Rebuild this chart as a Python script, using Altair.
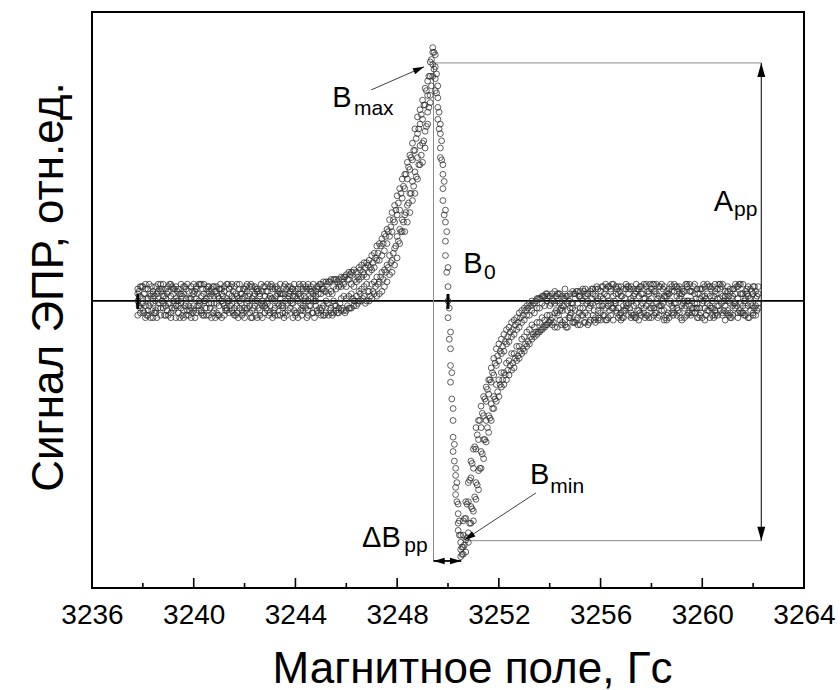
import altair as alt
import pandas as pd

# ---------------- data ----------------
# field grid of scans 1-4
field = [
    3237.8, 3237.9,
    3238.0, 3238.1, 3238.2, 3238.3, 3238.4, 3238.5, 3238.6, 3238.7, 3238.8, 3238.9,
    3239.0, 3239.1, 3239.2, 3239.3, 3239.4, 3239.5, 3239.6, 3239.7, 3239.8, 3239.9,
    3240.0, 3240.1, 3240.2, 3240.3, 3240.4, 3240.5, 3240.6, 3240.7, 3240.8, 3240.9,
    3241.0, 3241.1, 3241.2, 3241.3, 3241.4, 3241.5, 3241.6, 3241.7, 3241.8, 3241.9,
    3242.0, 3242.1, 3242.2, 3242.3, 3242.4, 3242.5, 3242.6, 3242.7, 3242.8, 3242.9,
    3243.0, 3243.1, 3243.2, 3243.3, 3243.4, 3243.5, 3243.6, 3243.7, 3243.8, 3243.9,
    3244.0, 3244.1, 3244.2, 3244.3, 3244.4, 3244.5, 3244.6, 3244.7, 3244.8, 3244.9,
    3245.0, 3245.1, 3245.2, 3245.3, 3245.4, 3245.5, 3245.6, 3245.7, 3245.8, 3245.9,
    3246.0, 3246.1, 3246.2, 3246.3, 3246.4, 3246.5, 3246.6, 3246.7, 3246.8, 3246.9,
    3247.0, 3247.1, 3247.2, 3247.3, 3247.4, 3247.5, 3247.6, 3247.7, 3247.8, 3247.9,
    3248.0, 3248.1, 3248.2, 3248.3, 3248.4, 3248.5, 3248.6, 3248.7, 3248.8, 3248.9,
    3249.0, 3249.1, 3249.2, 3249.3, 3249.4, 3249.5, 3249.6, 3249.7, 3249.8, 3249.9,
    3250.0, 3250.1, 3250.2, 3250.3, 3250.4, 3250.5, 3250.6, 3250.7, 3250.8, 3250.9,
    3251.0, 3251.1, 3251.2, 3251.3, 3251.4, 3251.5, 3251.6, 3251.7, 3251.8, 3251.9,
    3252.0, 3252.1, 3252.2, 3252.3, 3252.4, 3252.5, 3252.6, 3252.7, 3252.8, 3252.9,
    3253.0, 3253.1, 3253.2, 3253.3, 3253.4, 3253.5, 3253.6, 3253.7, 3253.8, 3253.9,
    3254.0, 3254.1, 3254.2, 3254.3, 3254.4, 3254.5, 3254.6, 3254.7, 3254.8, 3254.9,
    3255.0, 3255.1, 3255.2, 3255.3, 3255.4, 3255.5, 3255.6, 3255.7, 3255.8, 3255.9,
    3256.0, 3256.1, 3256.2, 3256.3, 3256.4, 3256.5, 3256.6, 3256.7, 3256.8, 3256.9,
    3257.0, 3257.1, 3257.2, 3257.3, 3257.4, 3257.5, 3257.6, 3257.7, 3257.8, 3257.9,
    3258.0, 3258.1, 3258.2, 3258.3, 3258.4, 3258.5, 3258.6, 3258.7, 3258.8, 3258.9,
    3259.0, 3259.1, 3259.2, 3259.3, 3259.4, 3259.5, 3259.6, 3259.7, 3259.8, 3259.9,
    3260.0, 3260.1, 3260.2, 3260.3, 3260.4, 3260.5, 3260.6, 3260.7, 3260.8, 3260.9,
    3261.0, 3261.1, 3261.2, 3261.3, 3261.4, 3261.5, 3261.6, 3261.7, 3261.8, 3261.9,
    3262.0, 3262.1, 3262.2,
]

# shifted field grid of scans 5-6
field_b = [
    3237.85, 3237.95,
    3238.05, 3238.15, 3238.25, 3238.35, 3238.45, 3238.55, 3238.65, 3238.75, 3238.85, 3238.95,
    3239.05, 3239.15, 3239.25, 3239.35, 3239.45, 3239.55, 3239.65, 3239.75, 3239.85, 3239.95,
    3240.05, 3240.15, 3240.25, 3240.35, 3240.45, 3240.55, 3240.65, 3240.75, 3240.85, 3240.95,
    3241.05, 3241.15, 3241.25, 3241.35, 3241.45, 3241.55, 3241.65, 3241.75, 3241.85, 3241.95,
    3242.05, 3242.15, 3242.25, 3242.35, 3242.45, 3242.55, 3242.65, 3242.75, 3242.85, 3242.95,
    3243.05, 3243.15, 3243.25, 3243.35, 3243.45, 3243.55, 3243.65, 3243.75, 3243.85, 3243.95,
    3244.05, 3244.15, 3244.25, 3244.35, 3244.45, 3244.55, 3244.65, 3244.75, 3244.85, 3244.95,
    3245.05, 3245.15, 3245.25, 3245.35, 3245.45, 3245.55, 3245.65, 3245.75, 3245.85, 3245.95,
    3246.05, 3246.15, 3246.25, 3246.35, 3246.45, 3246.55, 3246.65, 3246.75, 3246.85, 3246.95,
    3247.05, 3247.15, 3247.25, 3247.35, 3247.45, 3247.55, 3247.65, 3247.75, 3247.85, 3247.95,
    3248.05, 3248.15, 3248.25, 3248.35, 3248.45, 3248.55, 3248.65, 3248.75, 3248.85, 3248.95,
    3249.05, 3249.15, 3249.25, 3249.35, 3249.45, 3249.55, 3249.65, 3249.75, 3249.85, 3249.95,
    3250.05, 3250.15, 3250.25, 3250.35, 3250.45, 3250.55, 3250.65, 3250.75, 3250.85, 3250.95,
    3251.05, 3251.15, 3251.25, 3251.35, 3251.45, 3251.55, 3251.65, 3251.75, 3251.85, 3251.95,
    3252.05, 3252.15, 3252.25, 3252.35, 3252.45, 3252.55, 3252.65, 3252.75, 3252.85, 3252.95,
    3253.05, 3253.15, 3253.25, 3253.35, 3253.45, 3253.55, 3253.65, 3253.75, 3253.85, 3253.95,
    3254.05, 3254.15, 3254.25, 3254.35, 3254.45, 3254.55, 3254.65, 3254.75, 3254.85, 3254.95,
    3255.05, 3255.15, 3255.25, 3255.35, 3255.45, 3255.55, 3255.65, 3255.75, 3255.85, 3255.95,
    3256.05, 3256.15, 3256.25, 3256.35, 3256.45, 3256.55, 3256.65, 3256.75, 3256.85, 3256.95,
    3257.05, 3257.15, 3257.25, 3257.35, 3257.45, 3257.55, 3257.65, 3257.75, 3257.85, 3257.95,
    3258.05, 3258.15, 3258.25, 3258.35, 3258.45, 3258.55, 3258.65, 3258.75, 3258.85, 3258.95,
    3259.05, 3259.15, 3259.25, 3259.35, 3259.45, 3259.55, 3259.65, 3259.75, 3259.85, 3259.95,
    3260.05, 3260.15, 3260.25, 3260.35, 3260.45, 3260.55, 3260.65, 3260.75, 3260.85, 3260.95,
    3261.05, 3261.15, 3261.25, 3261.35, 3261.45, 3261.55, 3261.65, 3261.75, 3261.85, 3261.95,
    3262.05, 3262.15,
]

scan_1 = [
    3, -5, 6, -2, 1, -7, 4, 0, -3, 7,
    -1, 5, -6, 2, -4, 6, -2, 3, -7, 1,
    4, -3, 7, -5, 0, 2, -6, 5, -1, 3,
    -4, 6, -2, -7, 4, 1, -5, 7, -3, 2,
    0, -6, 5, -1, 3, -4, 6, -7, 2, 4,
    -2, 7, -5, 1, -3, 5, -6, 3, 0, -4,
    6, -1, 4, -7, 2, 5, -3, 7, -2, 1,
    4, -5,
    -4, 5, -5, 8, -3, 6, -4, 9, 1, -4,
    11, -3, 7, -2, 12, 0, 15, 2, 10, 4,
    19, 3, 17, 8, 26, 6, 24, 11, 37, 22,
    18, 47, 29, 53, 40, 61, 42, 63, 51, 80,
    66, 71, 92, 86, 104,
    98, 85, 70, 47, 33, 6, -27, -50, -78, -93, -101,
    -92, -100, -76, -93, -62, -83, -50, -70, -40, -59,
    -33, -50, -24, -42, -18, -36, -14, -33, -11, -29,
    -8, -25, -5, -22, -3, -19, -1, -16, -1, -14,
    1, -12, 2, -10,
    2, -10, -1, 3, -8, -4, 1, -11, -3, 4,
    -9, -1, 4, -6, 2, -10, -2, 5, -7, 1,
    -5, 6, -8, 0, 4, -3, 6, -7, 2, -4,
    5, -6, 1, -2, 7, -8, 3, -5, 6, 0,
    -7, 4, -1, 6, -4, 2, -6, 5, -2, 7,
    -3, 1, -8, 4, 6, -5, 0, 3, -7, 5,
    -1, 6, -4, 2, -6, 7, -2, 1, -5, 4,
    0, -7, 5, -3, 6, -1, 3, -6, 2, -4,
    6, -2, 3,
]

scan_2 = [
    -6, 2, -1, 5, -4, 3, -7, 6, 1, -3,
    7, -2, 4, -5, 0, -7, 5, -1, 3, -6,
    -2, 6, -4, 1, 7, -5, 3, -3, 6, -7,
    2, -1, 5, 3, -6, 7, 0, -4, 6, -2,
    5, 3, -3, 7, -5, 1, -2, 4, -6, 0,
    6, -4, 2, -7, 5, -1, 3, -5, 7, 1,
    -3, 5, -6, 3, -1, -4, 6, 0, 4, -5,
    2, 6,
    7, -2, 4, -6, 9, 0, 5, -3, 10, 7,
    -4, 9, -3, 13, 2, 9, 5, 11, 0, 17,
    7, 14, 2, 24, 12, 21, 8, 34, 17, 40,
    36, 24, 51, 36, 58, 45, 66, 45, 70, 57,
    84, 82, 74, 100, 94,
    103, 76, 64, 57, 19, -7, -13, -63, -70, -85, -107,
    -103, -84, -97, -67, -88, -53, -79, -44, -66, -36,
    -55, -28, -45, -20, -40, -16, -35, -12, -31, -9,
    -28, -7, -24, -4, -21, -2, -18, 0, -15, 1,
    -13, 2, -11, 3,
    -9, 1, -5, -11, 3, -2, -8, 2, -6, -1,
    3, -7, -3, 5, -9, 0, 4, -6, 2, -8,
    4, -2, 5, -7, -1, 7, -4, 3, -8, 5,
    -3, 6, -7, 2, -1, 5, -6, 7, -2, 3,
    5, -3, 7, -6, 1, -8, 4, -1, 6, -5,
    2, 6, -2, -7, 0, 4, -5, 7, -1, -3,
    5, -8, 3, -2, 6, -4, 1, 7, -6, 2,
    -4, 5, -2, 7, -7, 3, -5, 1, 6, -1,
    -6, 4, -3,
]

scan_3 = [
    0, 6, -4, -7, 5, 2, -1, -5, 7, 4,
    -3, 1, 6, -7, 3, -2, 0, 7, -4, 5,
    -6, 1, -2, 5, -4, 7, 0, -6, 4, -1,
    6, -5, 1, 5, -2, -4, 3, -1, -6, 7,
    -3, 1, -7, 4, -2, 6, 3, 0, -4, -7,
    2, -1, 6, 5, -6, 3, 1, -3, -5, 6,
    0, -7, 2, 5, -4, 7, 1, -4, 6, 3,
    -2, 5,
    -6, 8, 0, 3, -5, -5, 9, 6, -4, 2,
    6, 2, 12, 6, -2, 14, 0, 16, 7, 0,
    13, 20, 10, 3, 19, 28, 15, 19, 29, 15,
    44, 38, 43, 29, 33, 55, 50, 72, 77, 65,
    58, 89, 86, 94, 99,
    88, 90, 74, 42, 38, 14, -34, -45, -81, -96, -98,
    -98, -105, -84, -86, -70, -76, -58, -63, -48, -50,
    -39, -43, -31, -35, -25, -30, -21, -26, -17, -22,
    -14, -19, -11, -16, -8, -13, -6, -10, -5, -9,
    -3, -7, -2, -6,
    -2, -7, 4, -5, -1, 2, -10, -4, 3, -9,
    -4, 4, -10, 0, -5, 3, -8, -1, 5, -4,
    -8, 1, -3, 6, -6, 2, -1, 6, -5, -2,
    7, -1, -5, 5, -7, 2, 6, -3, -6, 4,
    1, -6, 3, -2, 7, -4, 2, -7, 4, -1,
    6, -5, 3, 0, -6, 7, -3, -1, 5, -6,
    2, -3, 7, -7, 0, 4, -6, 5, 2, -8,
    6, -1, -6, 3, 1, -5, 7, -3, -2, 5,
    -5, 1, 6,
]

scan_4 = [
    5, -3, 1, 7, -6, -1, 3, -4, 4, -6,
    2, -6, -1, 7, 5, 1, -5, -3, 6, -1,
    1, -7, 3, 6, -2, -4, 7, 1, -6, 5,
    -1, 3, -6, 0, 6, -3, 5, 2, 1, -5,
    7, -4, 2, -3, 6, -7, 0, 5, 3, -2,
    -5, 4, -2, 6, 0, -6, 7, -2, 3, -1,
    4, 2, -5, 0, 6, -2, 4, -6, 1, 7,
    0, 3,
    3, -6, 8, -1, 4, 9, -2, -5, 6, 10,
    1, 12, 3, 0, 8, 4, 10, 6, 16, 12,
    1, 8, 23, 17, 4, 13, 30, 27, 12, 33,
    27, 30, 34, 47, 51, 37, 59, 54, 60, 74,
    76, 64, 79, 83, 106,
    93, 81, 60, 53, 25, 0, -20, -57, -73, -89, -104,
    -106, -91, -101, -74, -92, -62, -71, -53, -58, -42,
    -48, -34, -40, -27, -33, -22, -30, -18, -25, -15,
    -22, -12, -19, -9, -15, -6, -12, -4, -11, -3,
    -9, -1, -8, 0,
    -6, 3, -11, 0, -4, -9, 5, -1, -7, -3,
    1, -10, 2, -3, 5, -6, -1, 3, -9, 5,
    2, -6, 7, -2, 5, -8, 3, -3, 6, -7,
    -1, 3, 6, -6, 4, -4, -2, 1, 7, -7,
    -3, 7, -5, 2, -2, 6, -8, 3, -5, 4,
    -6, 3, 5, -3, 7, -2, 4, -5, -3, 1,
    -7, 2, -1, 6, -3, -6, 5, -4, 7, -2,
    4, -5, 2, -1, -5, 7, -2, 4, -7, 1,
    3, -6, -1,
]

scan_5 = [
    -2, 6, -5, 1, 7, -4, 2, -7, 5, 0,
    -6, 3, -1, 6, -3, 4, -7, 2, 6, -4,
    1, -5, 4, -2, 7, -6, 0, 3, -3, 6,
    -7, 2, 5, -1, -4, 7, -2, 4, -6, 1,
    3, -5, 6, 0, -7, 2, 5, -3, 7, -1,
    4, -6, 1, -4, 6, -2, 3, -7, 5, 2,
    -1, 7, -5, 3, -6, 0, 5, -2, 4, -7,
    6, -3,
    5, -6, 7, -4, 3, -2, 8, -1, 9, -5,
    9, -3, 12, 0, 10, 3, 12, -1, 15, 2,
    16, 6, 20, 10, 24, 12, 29, 16, 34, 23,
    41, 29, 48, 37, 56, 45, 63, 52, 72, 61,
    82, 73, 94, 90, 104,
    95, 79, 67, 50, 29, -3, -30, -60, -76, -92, -103,
    -102, -85, -93, -68, -82, -56, -70, -47, -58, -37,
    -49, -30, -41, -23, -35, -19, -31, -15, -27, -12,
    -24, -9, -21, -6, -18, -3, -15, -1, -13, 1,
    -12, 2, -10, 2,
    -8, 0, -4, 3, -10, -2, 2, -7, -1, -9,
    4, -5, 1, -9, 3, -3, 5, -8, 0, -2,
    6, -6, 2, -4, 7, -1, -5, 4, -7, 1,
    -2, 5, -6, 3, -4, 6, -1, -7, 4, -3,
    7, -5, 1, -2, 5, -7, 3, 0, -6, 6,
    -4, 2, -1, 7, -5, 4, -3, 1, -7, 5,
    0, -6, 6, -3, 2, -5, 7, -1, -4, 3,
    -6, 1, 5, -2, 7, -5, 0, 3, -7, 4,
    -3, 2,
]

scan_6 = [
    4, -1, 3, -6, -2, 6, -5, 3, -1, 5,
    2, -4, 7, -3, 5, 0, 3, -6, -2, 7,
    -4, 4, -7, 3, -1, 5, -3, 6, 2, -5,
    4, -6, 7, 2, -3, 0, 6, -5, 3, -7,
    -1, 5, -4, 2, 7, -3, -6, 4, -1, 6,
    -3, 1, 7, -5, 2, 4, -2, 6, -6, 3,
    5, -4, 1, 7, -3, 2, -7, 5, -5, 0,
    -4, 7,
    -3, 4, -1, 8, -6, 9, -5, 7, -3, 10,
    -2, 11, 1, 9, -1, 13, 1, 14, 4, 14,
    4, 18, 7, 23, 9, 27, 14, 31, 20, 38,
    25, 45, 33, 53, 41, 60, 48, 68, 57, 78,
    67, 88, 81, 101, 97,
    87, 72, 59, 36, 12, -16, -41, -67, -84, -98, -106,
    -91, -99, -75, -87, -61, -77, -50, -64, -41, -53,
    -33, -45, -26, -38, -21, -33, -17, -29, -13, -26,
    -10, -23, -7, -20, -4, -17, -2, -14, 0, -13,
    1, -11, 3, -9,
    -1, -9, 2, -6, -3, 1, -11, 0, -5, 3,
    -8, 2, -6, 4, -1, -9, 1, -4, 6, -7,
    -2, 3, -8, 6, -3, 0, 5, -6, 2, -4,
    6, -3, 0, -7, 5, -5, 3, 1, -6, 7,
    -2, 4, -7, 6, -1, 2, -5, 7, -3, -1,
    5, -7, 4, -2, 0, -6, 6, -3, 3, -5,
    7, 1, -4, 5, -7, 3, -2, 6, 0, -5,
    2, -7, -1, 6, -4, 3, -6, 5, 1, -2,
    6, -4,
]

x_major_ticks = [3236, 3240, 3244, 3248, 3252, 3256, 3260, 3264]
x_minor_ticks = [3238, 3242, 3246, 3250, 3254, 3258, 3262]

# characteristic points of the spectrum (field, signal)
B_max = (3249.43, 99.6)
B_min = (3250.52, -100.3)
B_0 = 3250.0
scan_start = 3237.8
A_pp_field = 3262.32
dB_level = -108.8

# annotation texts
ann_text = ["B", "max", "B", "0", "A", "pp", "B", "min", "\u0394B", "pp"]
ann_x = [3245.45, 3246.3, 3250.6, 3251.42, 3260.45, 3261.25, 3253.22, 3254.02, 3246.62, 3248.28]
ann_y = [81.2, 77.8, 11.5, 9.0, 37.8, 35.6, -76.6, -80.2, -102.8, -105.2]
ann_size = [29, 21, 29, 21, 29, 21, 29, 21, 29, 21]

# ---------------- tables ----------------
groups = [(field, [scan_1, scan_2, scan_3, scan_4]), (field_b, [scan_5, scan_6])]
rows = []
k = 0
for grid, scans in groups:
    for s in scans:
        k += 1
        if len(s) != len(grid):
            raise ValueError(f"scan {k}: length mismatch {len(s)} vs {len(grid)}")
        for b, v in zip(grid, s):
            rows.append({"B": b, "S": v, "scan": k})
df = pd.DataFrame(rows)

X_DOMAIN = [3236, 3264]
Y_DOMAIN = [-120.1, 120.9]
xs = alt.Scale(domain=X_DOMAIN, nice=False, zero=False)
ys = alt.Scale(domain=Y_DOMAIN, nice=False, zero=False)
FONT = "Liberation Sans"

x_axis = alt.Axis(
    values=x_major_ticks, format="d", ticks=False, domain=False, grid=False,
    labelFont=FONT, labelFontSize=28, labelColor="black", labelPadding=13,
    labelFlush=False, labelOverlap=False,
    title="Магнитное поле, Гс", titleFont=FONT, titleFontSize=44,
    titleFontWeight="normal", titleColor="black",
    titleX=380, titleY=94, titleAlign="center", titleBaseline="alphabetic",
)
y_axis = alt.Axis(
    labels=False, ticks=False, domain=False, grid=False,
    title="Сигнал ЭПР, отн.ед.", titleFont=FONT, titleFontSize=44,
    titleFontWeight="normal", titleColor="black", titleAngle=270,
    titleX=-30, titleY=274.5, titleAlign="center", titleBaseline="alphabetic",
)

base_x = alt.X("x:Q", scale=xs, axis=x_axis)
base_y = alt.Y("y:Q", scale=ys, axis=y_axis)

# zero line
zero_df = pd.DataFrame({"x": [X_DOMAIN[0]], "x2": [X_DOMAIN[1]], "y": [0]})
zero_line = alt.Chart(zero_df).mark_rule(color="black", strokeWidth=1.8).encode(
    x=base_x, x2="x2:Q", y=base_y
)

# thin gray guide lines
guides_df = pd.DataFrame({
    "x": [B_max[0], B_max[0], B_min[0] + 0.24],
    "x2": [B_max[0], A_pp_field, A_pp_field],
    "y": [B_max[1], B_max[1], B_min[1]],
    "y2": [dB_level, B_max[1], B_min[1]],
})
guides = alt.Chart(guides_df).mark_rule(color="#8c8c8c", strokeWidth=1).encode(
    x="x:Q", x2="x2:Q", y="y:Q", y2="y2:Q"
)

# spectrum points (open circles)
points = alt.Chart(df).mark_point(
    shape="circle", size=34, filled=False, opacity=1, color="#2a2a2a", strokeWidth=0.75
).encode(
    x=alt.X("B:Q", scale=xs, axis=x_axis),
    y=alt.Y("S:Q", scale=ys, axis=y_axis),
)

# small black marks on the baseline
marks_df = pd.DataFrame({"x": [scan_start, B_0], "y": [-3.3, -3.3], "y2": [2.9, 2.9]})
bars = alt.Chart(marks_df).mark_rule(color="black", strokeWidth=3).encode(
    x="x:Q", y="y:Q", y2="y2:Q"
)

# arrow shafts
shafts_df = pd.DataFrame({
    "x": [A_pp_field, B_max[0], 3246.98, 3253.46],
    "x2": [A_pp_field, B_min[0], 3249.06, 3250.64],
    "y": [B_max[1], dB_level, 88.3, -80.3],
    "y2": [B_min[1], dB_level, 98.0, -100.0],
    "w": [1.0, 1.8, 1.0, 1.0],
    "c": ["black", "black", "#404040", "#404040"],
})
shafts = alt.Chart(shafts_df).mark_rule().encode(
    x="x:Q", x2="x2:Q", y="y:Q", y2="y2:Q",
    strokeWidth=alt.StrokeWidth("w:Q", scale=None),
    color=alt.Color("c:N", scale=None),
)

# arrow heads (tip at the given point)
ARROW = "M0,0L0.4,1.4L-0.4,1.4Z"
heads_df = pd.DataFrame({
    "x": [A_pp_field, A_pp_field, B_max[0], B_min[0], 3249.06, 3250.64],
    "y": [B_max[1], B_min[1], dB_level, dB_level, 98.0, -100.0],
    "a": [0, 180, 270, 90, 66, 237],
    "s": [400, 400, 256, 256, 256, 256],
})
heads = alt.Chart(heads_df).mark_point(
    shape=ARROW, filled=True, color="black", opacity=1, strokeWidth=0
).encode(
    x="x:Q", y="y:Q",
    angle=alt.Angle("a:Q", scale=None),
    size=alt.Size("s:Q", scale=None),
)

# inward axis ticks
major_df = pd.DataFrame({"x": x_major_ticks})
minor_df = pd.DataFrame({"x": x_minor_ticks})
major = alt.Chart(major_df).mark_rule(color="black", strokeWidth=1.6).encode(
    x="x:Q", y=alt.value(576), y2=alt.value(566)
)
minor = alt.Chart(minor_df).mark_rule(color="black", strokeWidth=1.6).encode(
    x="x:Q", y=alt.value(576), y2=alt.value(571)
)

# texts
ann_df = pd.DataFrame({"t": ann_text, "x": ann_x, "y": ann_y, "s": ann_size})
texts = alt.Chart(ann_df).mark_text(
    align="left", baseline="alphabetic", font=FONT, color="black"
).encode(
    x="x:Q", y="y:Q", text="t:N", size=alt.Size("s:Q", scale=None)
)

chart = alt.layer(
    zero_line, guides, points, bars, shafts, heads, major, minor, texts
).properties(
    width=712, height=576,
    padding={"left": 92, "top": 12, "right": 36, "bottom": 102},
    autosize=alt.AutoSizeParams(type="none"),
    background="white",
).configure_view(
    stroke="black", strokeWidth=2
)

chart.save("out.html", embed_options={"renderer": "svg", "actions": False})
